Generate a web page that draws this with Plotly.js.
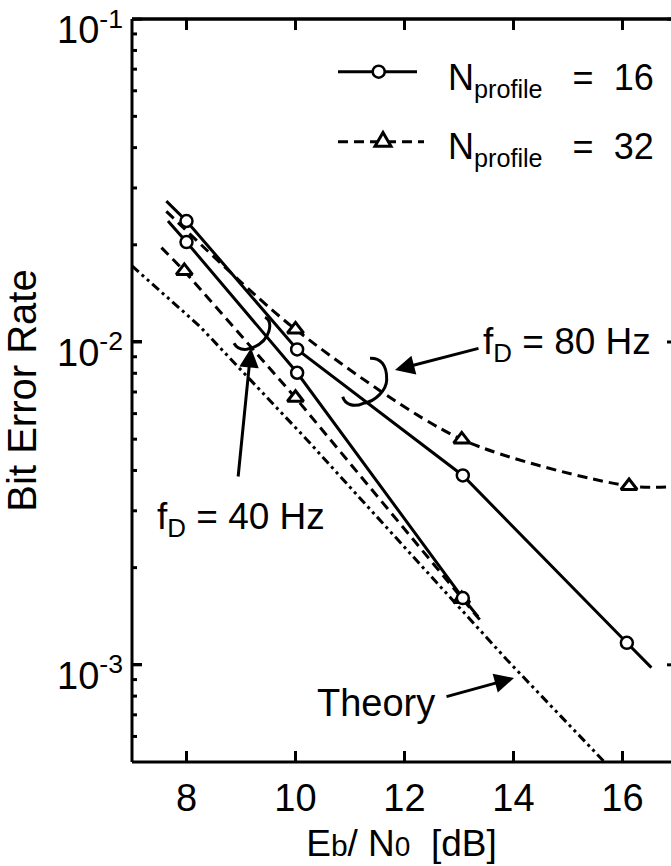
<!DOCTYPE html>
<html>
<head>
<meta charset="utf-8">
<script src="https://cdn.plot.ly/plotly-3.0.1.min.js"></script>
<style>
html,body{margin:0;padding:0;background:#fff;overflow:hidden;}
#chart{width:671px;height:866px;}
</style>
</head>
<body>
<div id="chart"></div>
<script>
// ---------- data ----------
// Eb/N0 [dB] and BER; first/last entries of each line array are where the drawn line starts/ends
const n16_80_x = [7.63, 8.0, 10.03, 13.07, 16.08, 16.53];
const n16_80_y = [0.0273, 0.0237, 0.00948, 0.00386, 0.00117, 0.00098];

const n16_40_x = [7.66, 8.0, 10.03, 13.07, 13.35];
const n16_40_y = [0.0237, 0.0204, 0.00803, 0.00161, 0.00141];

const n32_80_x = [7.63, 10.0, 13.05, 16.12, 17.0];
const n32_80_y = [0.0254, 0.01094, 0.00499, 0.00358, 0.00357];

const n32_40_x = [7.54, 7.96, 10.0, 13.05, 13.38];
const n32_40_y = [0.0196, 0.0166, 0.00672, 0.0016, 0.00138];

const theory_x = [7.0, 8.24, 10.2, 13.87, 15.67];
const theory_y = [0.0172, 0.0112, 0.0050, 0.00104, 0.0005];

const xTickVals = [8, 10, 12, 14, 16];
const yTickVals = [0.1, 0.01, 0.001];
const yTickText = ['10<sup>-1</sup>', '10<sup>-2</sup>', '10<sup>-3</sup>'];
const yMinorVals = [0.09,0.08,0.07,0.06,0.05,0.04,0.03,0.02,
                    0.009,0.008,0.007,0.006,0.005,0.004,0.003,0.002,
                    0.0009,0.0008,0.0007,0.0006];

// ---------- geometry ----------
// the axes box runs from 7 to 17 dB; its right edge lies just past the 671 px page,
// so the visible part of the x axis ends at 16.89 dB
const W = 671, H = 866, M = {l:132, r:0, t:19, b:104};
const PW = W - M.l - M.r, PH = H - M.t - M.b;
const xr = [7, 7 + PW / 54.5];
const yr = [Math.log10(0.0005), -0.9995];
const px = x => (x - M.l) / PW;
const py = y => (M.t + PH - y) / PH;
const rightAxisPx = M.l + 10 * 54.5;   // where the (cut-off) right axis sits

const FONT = 'Liberation Sans, Arial, Helvetica, sans-serif';
const solid = {color:'black', width:3};
const dashed = {color:'black', width:3, dash:'10px,6px'};
const circleMarker = {symbol:'circle', size:12, color:'white', line:{color:'black', width:2.5}};
const triMarker = {symbol:'triangle-up', size:14, color:'white', line:{color:'black', width:3}};

const inner = a => a.slice(1, -1);

const traces = [
  {x:theory_x, y:theory_y, mode:'lines', line:{color:'black', width:3, dash:'9px,4px,3px,4px,3px,4px'}},
  {x:n32_80_x, y:n32_80_y, mode:'lines', line:Object.assign({shape:'spline', smoothing:0.8}, dashed)},
  {x:n32_40_x, y:n32_40_y, mode:'lines', line:dashed},
  {x:n16_80_x, y:n16_80_y, mode:'lines', line:solid},
  {x:n16_40_x, y:n16_40_y, mode:'lines', line:solid},
  {x:inner(n32_80_x), y:inner(n32_80_y), mode:'markers', marker:triMarker},
  {x:inner(n32_40_x), y:inner(n32_40_y), mode:'markers', marker:triMarker},
  {x:inner(n16_80_x), y:inner(n16_80_y), mode:'markers', marker:circleMarker},
  {x:inner(n16_40_x), y:inner(n16_40_y), mode:'markers', marker:circleMarker}
];

function arrow(tipX, tipY, tailX, tailY){
  return {xref:'paper', yref:'paper', x:px(tipX), y:py(tipY), ax:tailX-tipX, ay:tailY-tipY,
          text:'', showarrow:true, arrowhead:2, arrowsize:1.3, arrowwidth:3, arrowcolor:'black', standoff:0};
}
function label(text, leftX, midY, size){
  return {xref:'paper', yref:'paper', x:px(leftX), y:py(midY), xanchor:'left', yanchor:'middle',
          text:text, showarrow:false, font:{family:FONT, size:size||37, color:'black'}};
}

const annotations = [
  label('N<sub>profile</sub>&nbsp;&nbsp;&nbsp;=&nbsp;&nbsp;16', 446, 80, 36),
  label('N<sub>profile</sub>&nbsp;&nbsp;&nbsp;=&nbsp;&nbsp;32', 446, 149, 36),
  label('f<sub>D</sub> = 80 Hz', 481, 344),
  label('f<sub>D</sub> = 40 Hz', 155, 519),
  label('Theory', 315, 703, 38),
  arrow(395, 370, 480, 348),
  arrow(251, 348, 238, 478),
  arrow(514, 678, 445, 697)
];

function pixShape(cx, cy, extra){
  return Object.assign({xref:'paper', yref:'paper', xsizemode:'pixel', ysizemode:'pixel',
                        xanchor:px(cx), yanchor:py(cy)}, extra);
}

const tickLine = {color:'black', width:3};
const frameLine = {color:'black', width:3};
const shapes = [
  // frame: top (as a thin filled band), bottom, left; the right side is off the page
  {type:'rect', xref:'paper', yref:'paper', x0:0, x1:1, y0:1 - 1.5/PH, y1:1 + 1.5/PH, fillcolor:'black', line:{width:0}},
  {type:'line', xref:'paper', yref:'paper', x0:0, x1:1, y0:1, y1:1, line:frameLine},
  {type:'line', xref:'paper', yref:'paper', x0:0, x1:1, y0:0, y1:0, line:frameLine},
  {type:'line', xref:'paper', yref:'paper', x0:0, x1:0, y0:0, y1:1, line:frameLine},
  // legend samples
  {type:'line', xref:'paper', yref:'paper', x0:px(338), x1:px(417), y0:py(71.7), y1:py(71.7), line:solid},
  pixShape(378.7, 71.7, {type:'circle', x0:-6, x1:6, y0:-6, y1:6, fillcolor:'white', line:{color:'black', width:2.5}}),
  {type:'line', xref:'paper', yref:'paper', x0:px(338), x1:px(424), y0:py(141.7), y1:py(141.7), line:dashed},
  pixShape(383, 141.7, {type:'path', path:'M-8,-4.6 L8,-4.6 L0,9.2 Z', fillcolor:'white', line:{color:'black', width:3}}),
  // bracket fD=80
  pixShape(365, 382, {type:'path', path:'M5,23.7 C15,24 22,18 21.7,2 C21.5,-8 10,-20 -1.7,-21.3 C-12,-26 -20,-22 -22.3,-14.7', line:{color:'black', width:3}}),
  // bracket fD=40
  pixShape(252, 333, {type:'path', path:'M13,15.7 C17,14 19,10 17,2 C14,-8 5,-14 -5.3,-16.3 C-12,-17 -16,-14 -18,-10.3', line:{color:'black', width:3}})
];
// inside tick marks on the bottom, top, left and (cut-off) right axes
const xPaper = v => (v - xr[0]) / (xr[1] - xr[0]);
const yPaper = v => (Math.log10(v) - yr[0]) / (yr[1] - yr[0]);
xTickVals.forEach(v => {
  const xp = xPaper(v);
  shapes.push({type:'line', xref:'paper', yref:'paper', x0:xp, x1:xp, y0:0, y1:11/PH, line:tickLine});
  shapes.push({type:'line', xref:'paper', yref:'paper', x0:xp, x1:xp, y0:1, y1:1-11/PH, line:tickLine});
});
function yTick(v, len){
  const yp = yPaper(v);
  shapes.push({type:'line', xref:'paper', yref:'paper', x0:0, x1:len/PW, y0:yp, y1:yp, line:tickLine});
  shapes.push({type:'line', xref:'paper', yref:'paper', x0:px(rightAxisPx - len), x1:1, y0:yp, y1:yp, line:tickLine});
}
yTickVals.forEach(v => yTick(v, 10));
yMinorVals.forEach(v => yTick(v, 5));

const layout = {
  width:W, height:H, margin:M, showlegend:false,
  paper_bgcolor:'white', plot_bgcolor:'white',
  font:{family:FONT, color:'black'},
  xaxis:{range:xr, tickmode:'array', tickvals:xTickVals, ticks:'inside', ticklen:10, tickwidth:3, tickcolor:'black',
         showline:false, showgrid:false, zeroline:false,
         tickfont:{family:FONT, size:38}, ticklabelstandoff:10, ticklabeloverflow:'allow',
         title:{text:'E<span style="font-size:30px">b</span>/ N<span style="font-size:28px">0</span>&nbsp;&nbsp;[dB]', font:{family:FONT, size:37}, standoff:12}},
  yaxis:{type:'log', range:yr, tickmode:'array', tickvals:yTickVals, ticktext:yTickText,
         ticks:'inside', ticklen:10, tickwidth:3, tickcolor:'black',
         showline:false, showgrid:false, zeroline:false,
         tickfont:{family:FONT, size:38}, ticklabelshift:11, ticklabelstandoff:8, ticklabeloverflow:'allow',
         title:{text:'Bit Error Rate', font:{family:FONT, size:40}, standoff:12}},
  annotations:annotations,
  shapes:shapes
};

Plotly.newPlot('chart', traces, layout, {staticPlot:true, displayModeBar:false});
</script>
</body>
</html>
